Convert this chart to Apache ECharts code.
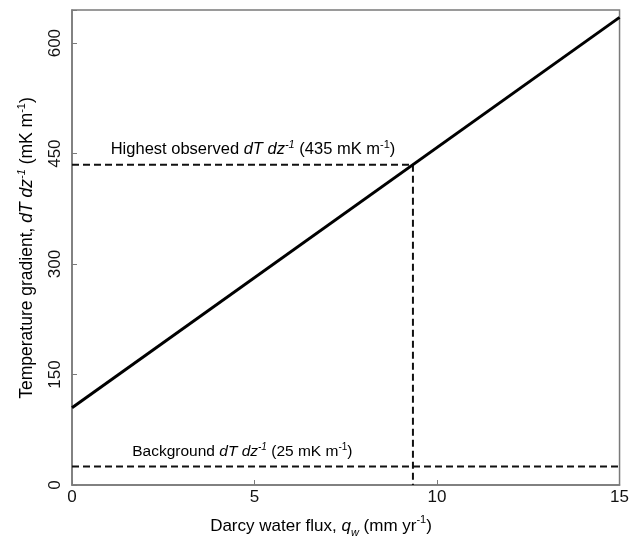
<!DOCTYPE html>
<html>
<head>
<meta charset="utf-8">
<script src="https://cdn.jsdelivr.net/npm/echarts@6/dist/echarts.min.js"></script>
<style>
  html, body { margin: 0; padding: 0; background: #fff; }
  #chart { width: 632px; height: 546px; }
</style>
</head>
<body>
<div id="chart"></div>
<script>
// Darcy water flux (mm/yr) and the modelled temperature gradient (mK/m)
const fluxValues = [0, 15];
const gradientValues = [105, 635];

// Reference gradients
const highestObserved = 435;
const backgroundGradient = 25;
// Flux at which the modelled gradient reaches the highest observed value
const fluxAtHighest = 9.34;

// Axis ticks
const xTicks = [0, 5, 10, 15];
const yTicks = [0, 150, 300, 450, 600];

const FONT = '"Liberation Sans", Arial, sans-serif';
const INK = '#111';
const AXIS_GREY = '#7a7a7a';

const chart = echarts.init(document.getElementById('chart'), null, { renderer: 'canvas' });

function richSet(size) {
  const small = Math.round(size * 0.64);
  const lh = Math.round(size * 1.2);
  return {
    n: { fontFamily: FONT, fontSize: size, color: INK, lineHeight: lh },
    i: { fontFamily: FONT, fontSize: size, color: INK, fontStyle: 'italic', lineHeight: lh },
    sup: { fontFamily: FONT, fontSize: small, color: INK, verticalAlign: 'top', lineHeight: lh },
    supi: { fontFamily: FONT, fontSize: small, color: INK, fontStyle: 'italic', verticalAlign: 'top', lineHeight: lh },
    sub: { fontFamily: FONT, fontSize: small, color: INK, fontStyle: 'italic', verticalAlign: 'bottom', lineHeight: lh + 4 }
  };
}

const option = {
  backgroundColor: '#fff',
  animation: false,
  grid: {
    left: 72, right: 7, top: 10, bottom: 61,
    show: true, borderColor: AXIS_GREY, borderWidth: 1.5, backgroundColor: 'transparent'
  },
  xAxis: {
    type: 'value',
    min: xTicks[0], max: xTicks[xTicks.length - 1], interval: 5,
    axisLine: { show: true, onZero: false, lineStyle: { color: AXIS_GREY, width: 1.5 } },
    axisTick: { show: true, inside: true, length: 5, lineStyle: { color: AXIS_GREY } },
    splitLine: { show: false },
    axisLabel: {
      margin: 4, fontFamily: FONT, fontSize: 17, color: INK,
      showMinLabel: true, showMaxLabel: true,
      formatter: v => (xTicks.includes(v) ? String(v) : '')
    }
  },
  yAxis: {
    type: 'value',
    min: 0, max: 645, interval: 150,
    axisLine: { show: true, onZero: false, lineStyle: { color: AXIS_GREY, width: 1.5 } },
    axisTick: { show: true, inside: true, length: 5, lineStyle: { color: AXIS_GREY } },
    splitLine: { show: false },
    axisLabel: {
      rotate: 90, margin: 8, fontFamily: FONT, fontSize: 17, color: INK,
      formatter: v => (yTicks.includes(v) ? String(v) : '')
    }
  },
  series: [
    {
      name: 'background',
      type: 'line',
      data: [[xTicks[0], backgroundGradient], [xTicks[xTicks.length - 1], backgroundGradient]],
      showSymbol: false, silent: true, z: 2,
      lineStyle: { color: INK, width: 2, type: [7, 4] }
    },
    {
      name: 'highest observed',
      type: 'line',
      data: [[0, highestObserved], [fluxAtHighest, highestObserved], [fluxAtHighest, 0]],
      showSymbol: false, silent: true, z: 2,
      lineStyle: { color: INK, width: 2, type: [7, 4] }
    },
    {
      name: 'modelled gradient',
      type: 'line',
      data: fluxValues.map((x, k) => [x, gradientValues[k]]),
      showSymbol: false, silent: true, z: 3,
      lineStyle: { color: '#000', width: 3 }
    }
  ]
};

chart.setOption(option);

// Annotation anchors in data space
const highestLabelAt = chart.convertToPixel({ gridIndex: 0 }, [1.06, highestObserved]);
const backgroundLabelAt = chart.convertToPixel({ gridIndex: 0 }, [1.65, backgroundGradient]);

chart.setOption({
  graphic: [
    {
      type: 'text',
      left: highestLabelAt[0], top: highestLabelAt[1] - 25,
      style: {
        text: '{n|Highest observed }{i|dT dz}{supi|-1}{n| (435 mK m}{sup|-1}{n|)}',
        rich: richSet(16.5)
      }
    },
    {
      type: 'text',
      left: backgroundLabelAt[0], top: backgroundLabelAt[1] - 24,
      style: {
        text: '{n|Background }{i|dT dz}{supi|-1}{n| (25 mK m}{sup|-1}{n|)}',
        rich: richSet(15.5)
      }
    },
    {
      type: 'text',
      x: 321, y: 526,
      style: {
        text: '{n|Darcy water flux, }{i|q}{sub|w}{n| (mm yr}{sup|-1}{n|)}',
        rich: richSet(17), align: 'center', verticalAlign: 'middle'
      }
    },
    {
      type: 'text',
      x: 27, y: 248, rotation: Math.PI / 2,
      style: {
        text: '{n|Temperature gradient, }{i|dT dz}{supi|-1}{n| (mK m}{sup|-1}{n|)}',
        rich: richSet(17.5), align: 'center', verticalAlign: 'middle'
      }
    }
  ]
});
</script>
</body>
</html>
